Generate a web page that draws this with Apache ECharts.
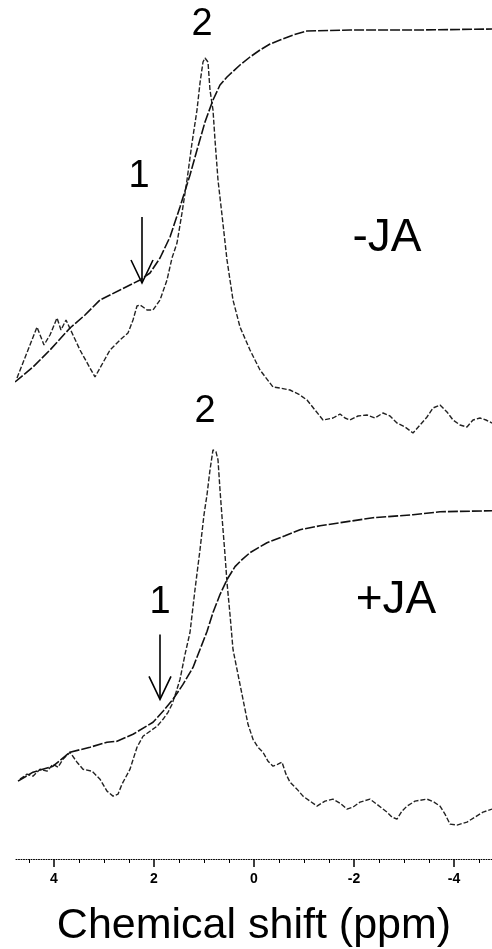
<!DOCTYPE html>
<html><head><meta charset="utf-8">
<script src="https://cdn.jsdelivr.net/npm/echarts@6/dist/echarts.min.js"></script>
<style>html,body{margin:0;padding:0;background:#fff}#c{width:492px;height:949px}</style>
</head><body><div id="c"></div>
<script>
// x axis (ppm)
const majorTicks = [4, 2, 0, -2, -4];
const minorTicks = [4.5, 3.5, 3, 2.5, 1.5, 1, 0.5, -0.5, -1, -1.5, -2.5, -3, -3.5, -4.5];
const axisTitle = 'Chemical shift (ppm)';

// -JA spectrum: [ppm, intensity]
const specMinusJA = [
 [4.74,10.5],[4.52,17.5],[4.34,23.25],[4.2,18.75],[4.08,21.25],[3.94,25.5],[3.86,22.5],[3.76,25],
 [3.48,17.5],[3.18,10.75],[2.88,17.5],[2.68,20],[2.52,21.75],[2.42,25],[2.34,28.5],[2.28,28.75],
 [2.22,28.25],[2.14,27.5],[2.02,27.5],[1.88,30],[1.74,35],[1.64,40.5],[1.54,44.25],[1.44,51.75],
 [1.34,60],[1.24,69.25],[1.14,77.5],[1.08,84.25],[1.02,89.5],[0.98,90.5],[0.92,89.5],[0.88,82.5],
 [0.82,77.5],[0.78,70],[0.72,60],[0.64,51.25],[0.54,40],[0.42,30],[0.28,23.25],[0.08,17.5],
 [-0.12,12.5],[-0.38,8.25],[-0.52,8],[-0.72,7.5],[-0.92,6.25],[-1.06,5],[-1.22,2.5],[-1.38,0],
 [-1.58,0.5],[-1.72,1.5],[-1.82,0.5],[-1.92,0],[-2.08,1],[-2.26,1.25],[-2.42,0.5],[-2.58,1.75],
 [-2.72,1],[-2.86,-0.75],[-3.02,-1.75],[-3.18,-3.25],[-3.32,-1.25],[-3.46,0.75],[-3.58,3],
 [-3.72,3.75],[-3.86,2],[-3.98,0],[-4.12,-1.25],[-4.26,-1.75],[-4.38,0],[-4.52,0.5],[-4.64,0],[-4.76,-0.75]
];
// -JA integral
const intMinusJA = [
 [4.78,9.5],[4.42,13.25],[4.08,17.5],[3.68,23],[3.38,26.25],[3.08,30],[2.68,32.5],[2.28,35],
 [2.08,36.75],[1.88,40.5],[1.68,45.75],[1.48,53.25],[1.28,61.25],[1.14,67.5],[0.98,74.5],[0.82,80],
 [0.68,83.75],[0.54,85.75],[0.28,88.75],[0.08,90.75],[-0.12,92.5],[-0.32,94],[-0.52,95],[-0.78,96.25],
 [-1.06,97.25],[-1.92,97.5],[-3.32,97.5],[-4.76,97.75]
];
// +JA spectrum
const specPlusJA = [
 [4.68,9.5],[4.54,10.75],[4.42,10.25],[4.28,12],[4.14,11.5],[4.02,13.25],[3.92,12.5],[3.82,14.5],
 [3.68,16.25],[3.54,13.75],[3.42,12],[3.24,11.5],[3.08,9.5],[2.94,6.5],[2.82,5.25],[2.72,5.75],
 [2.64,8.25],[2.48,12],[2.34,17.5],[2.22,20.25],[2.08,21.5],[1.94,22.75],[1.82,24.5],[1.72,26.25],
 [1.64,28.25],[1.56,31.25],[1.48,34.5],[1.38,40.75],[1.28,46.25],[1.18,57],[1.08,67],[1.0,75.75],
 [0.94,80.75],[0.88,87],[0.82,92],[0.76,91.5],[0.72,89.5],[0.68,82],[0.64,75.25],[0.58,65.75],
 [0.54,58.75],[0.48,50.75],[0.42,42],[0.34,37],[0.28,33.25],[0.2,28.25],[0.12,23.25],[0.02,19.5],
 [-0.08,17.5],[-0.18,16.25],[-0.28,14],[-0.38,12.75],[-0.48,13.25],[-0.56,13.75],[-0.64,10.75],
 [-0.72,8.75],[-0.86,7],[-0.98,5.25],[-1.12,4],[-1.26,2.75],[-1.42,4],[-1.58,4.5],[-1.72,3.5],
 [-1.86,2],[-1.98,2.5],[-2.12,3.75],[-2.32,4.5],[-2.48,3],[-2.66,1.25],[-2.76,0],[-2.86,-0.5],
 [-2.96,1.5],[-3.06,2.75],[-3.22,4],[-3.46,4.5],[-3.6,3.75],[-3.72,2.75],[-3.82,0.75],[-3.92,-1.75],
 [-4.06,-2],[-4.26,-1.25],[-4.42,0],[-4.58,1.25],[-4.76,2]
];
// +JA integral
const intPlusJA = [
 [4.72,9],[4.42,11.25],[4.02,12.75],[3.68,16.25],[3.28,17.5],[2.94,18.75],[2.74,19],[2.42,20.75],
 [2.02,23.75],[1.82,26.5],[1.62,29.5],[1.42,33.25],[1.22,37.5],[1.08,42],[0.94,46.5],[0.82,51.25],
 [0.68,55.75],[0.54,59.5],[0.38,62.75],[0.24,64.5],[0.08,66.25],[-0.26,68.75],[-0.62,70.5],
 [-0.92,72],[-1.32,73],[-1.72,73.75],[-2.38,75],[-3.18,75.75],[-3.72,76.5],[-4.76,76.75]
];
// annotations: [ppm, intensity] anchors
const peakLabels = [
 {grid:0, text:'2', at:[1.04, 98.75]},
 {grid:0, text:'1', at:[2.3, 60.75]},
 {grid:1, text:'2', at:[0.98, 101.5]},
 {grid:1, text:'1', at:[1.88, 53.75]}
];
const arrows = [
 {grid:0, ppm:2.24, from:50.75, to:34.25},
 {grid:1, ppm:1.88, from:45.75, to:29.5}
];
const panelLabels = [
 {grid:0, text:'-JA', at:[-2.66, 45.5]},
 {grid:1, text:'+JA', at:[-2.84, 54.25]}
];

const FONT = '"Liberation Sans", Arial, Helvetica, sans-serif';
const chart = echarts.init(document.getElementById('c'), null, {renderer:'canvas'});
const xBase = {type:'value', min:-4.76, max:4.76, inverse:true, splitLine:{show:false}};
const specStyle = {color:'#222', width:1.4, type:[5,2]};
const intStyle = {color:'#111', width:1.6, type:[10,2]};
chart.setOption({
  animation:false,
  backgroundColor:'#fff',
  grid:[
    {left:16, right:0, top:0, height:460},
    {left:16, right:0, top:398, height:462}
  ],
  xAxis:[
    Object.assign({}, xBase, {gridIndex:0, show:false}),
    Object.assign({}, xBase, {gridIndex:1, position:'bottom', offset:0,
      axisLine:{show:true, onZero:false, lineStyle:{color:'#000', width:1, type:[1,1.5]}},
      axisTick:{show:true, customValues:majorTicks, length:8, inside:false, lineStyle:{color:'#000', width:1.5}},
      axisLabel:{show:true, customValues:majorTicks, margin:13, color:'#000', fontWeight:'bold', fontSize:14, fontFamily:FONT},
      name:axisTitle, nameLocation:'middle', nameGap:46,
      nameTextStyle:{fontSize:43, color:'#000', fontFamily:FONT}
    }),
    Object.assign({}, xBase, {gridIndex:1, position:'bottom', offset:0,
      axisLine:{show:false, onZero:false},
      axisTick:{show:true, customValues:minorTicks, length:4, lineStyle:{color:'#000', width:1}},
      axisLabel:{show:false}
    })
  ],
  yAxis:[
    {type:'value', gridIndex:0, min:-10, max:105, show:false},
    {type:'value', gridIndex:1, min:-10.5, max:105, show:false}
  ],
  series:[
    {type:'line', xAxisIndex:0, yAxisIndex:0, data:specMinusJA, showSymbol:false, lineStyle:specStyle},
    {type:'line', xAxisIndex:0, yAxisIndex:0, data:intMinusJA, showSymbol:false, lineStyle:intStyle},
    {type:'line', xAxisIndex:1, yAxisIndex:1, data:specPlusJA, showSymbol:false, lineStyle:specStyle},
    {type:'line', xAxisIndex:1, yAxisIndex:1, data:intPlusJA, showSymbol:false, lineStyle:intStyle}
  ]
});

function px(grid, p){ return chart.convertToPixel({gridIndex:grid}, p); }
const g = [];
peakLabels.forEach(l => {
  const [x,y] = px(l.grid, l.at);
  g.push({type:'text', x, y, style:{text:l.text, fill:'#000', font:'38px '+FONT, align:'center', verticalAlign:'middle'}});
});
panelLabels.forEach(l => {
  const [x,y] = px(l.grid, l.at);
  g.push({type:'text', x, y, style:{text:l.text, fill:'#000', font:'46px '+FONT, align:'center', verticalAlign:'middle'}});
});
arrows.forEach(a => {
  const [x1,y1] = px(a.grid, [a.ppm, a.from]);
  const [x2,y2] = px(a.grid, [a.ppm, a.to]);
  g.push({type:'line', shape:{x1, y1, x2, y2}, style:{stroke:'#000', lineWidth:1.6}});
  g.push({type:'polyline', shape:{points:[[x2-11, y2-23],[x2, y2],[x2+11, y2-23]]}, style:{stroke:'#000', lineWidth:1.6, fill:null}});
});
chart.setOption({graphic:g});
</script></body></html>
